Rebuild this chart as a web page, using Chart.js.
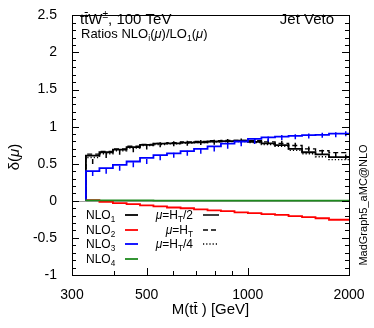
<!DOCTYPE html>
<html><head><meta charset="utf-8">
<script src="https://cdn.jsdelivr.net/npm/chart.js@4"></script>
<style>html,body{margin:0;padding:0;background:#fff}#wrap{width:374px;height:328px;position:relative}</style>
</head><body><div id="wrap"><canvas id="c"></canvas></div>
<script>
// ---- data ----
const binEdges = [330, 362, 397, 436, 478, 524, 575, 631, 692, 759, 832, 913, 1001, 1098, 1205, 1322, 1450, 1590, 1744, 1913, 2000];
const nlo1_HT2 = [0.53, 0.61, 0.655, 0.69, 0.725, 0.755, 0.77, 0.775, 0.785, 0.79, 0.80, 0.805, 0.81, 0.795, 0.775, 0.75, 0.70, 0.655, 0.625, 0.59];
const nlo1_HT  = [0.57, 0.63, 0.665, 0.70, 0.735, 0.76, 0.775, 0.785, 0.795, 0.80, 0.81, 0.815, 0.815, 0.81, 0.795, 0.775, 0.745, 0.70, 0.675, 0.65];
const nlo1_HT4 = [0.50, 0.585, 0.635, 0.675, 0.71, 0.745, 0.76, 0.77, 0.78, 0.785, 0.795, 0.80, 0.80, 0.785, 0.76, 0.735, 0.68, 0.635, 0.595, 0.555];
const nlo2 = [0.04, 0.01, -0.015, -0.03, -0.045, -0.06, -0.075, -0.09, -0.10, -0.115, -0.13, -0.14, -0.155, -0.165, -0.18, -0.19, -0.205, -0.22, -0.235, -0.255];
const nlo3 = [0.37, 0.40, 0.44, 0.485, 0.53, 0.58, 0.615, 0.64, 0.67, 0.70, 0.735, 0.77, 0.80, 0.835, 0.855, 0.865, 0.875, 0.885, 0.89, 0.905];
const nlo4 = [0.0, 0.005, 0.005, 0.005, 0.005, 0.005, 0.004, 0.004, 0.004, 0.004, 0.003, 0.003, 0.003, 0.003, 0.003, 0.002, 0.002, 0.002, 0.002, 0.002];
const xTickValues = [300, 400, 500, 600, 700, 800, 900, 1000, 2000];
const xTickLabels = ['300', '', '500', '', '', '', '', '1000', '2000'];
const yTickValues = [-1, -0.5, 0, 0.5, 1, 1.5, 2, 2.5];
const yTickLabels = ['-1', '-0.5', '0', '0.5', '1', '1.5', '2', '2.5'];
const yMinorStep = 0.1;

const FONT = "'Liberation Sans', Arial, Helvetica, sans-serif";

function steps(vals) {
  const pts = [{x: binEdges[0], y: 0}];
  vals.forEach((v, i) => pts.push({x: binEdges[i], y: v}));
  pts.push({x: binEdges[vals.length], y: vals[vals.length - 1]});
  return pts;
}
function centers(vals) {
  return vals.map((v, i) => ({x: Math.sqrt(binEdges[i] * Math.min(binEdges[i + 1], binEdges[i] * 1.097)), y: v}));
}

function ds(label, vals, color, dash, order, width) {
  return {label, data: steps(vals), borderColor: color, borderWidth: width || 1.8,
    borderDash: dash || [], stepped: 'after', pointRadius: 0, fill: false, order, tension: 0};
}
function errs(label, vals, color, order) {
  return {label, data: centers(vals), showLine: false, pointStyle: 'line', rotation: 90,
    pointRadius: 2.5, borderColor: color, backgroundColor: color, pointBorderWidth: 1.5, order};
}

// rich text helper: segs = [{t, sub, sup, it, bar}]
function drawRich(ctx, segs, x, y, size, align) {
  const parts = segs.map(s => {
    const sz = (s.sub || s.sup) ? size * 0.68 : size;
    const font = (s.it ? 'italic ' : '') + sz + 'px ' + FONT;
    ctx.font = font;
    return {t: s.t, font, bar: s.bar, w: ctx.measureText(s.t).width, dy: s.sub ? size * 0.25 : (s.sup ? -size * 0.4 : 0)};
  });
  const total = parts.reduce((a, p) => a + p.w, 0);
  let cx = align === 'right' ? x - total : (align === 'center' ? x - total / 2 : x);
  ctx.textAlign = 'left';
  ctx.textBaseline = 'alphabetic';
  parts.forEach(p => {
    ctx.font = p.font; ctx.fillText(p.t, cx, y + p.dy);
    if (p.bar) {
      ctx.save(); ctx.strokeStyle = ctx.fillStyle; ctx.lineWidth = 1; ctx.setLineDash([]);
      const by = Math.round(y - size * 0.82) + 0.5;
      ctx.beginPath(); ctx.moveTo(cx + 0.5, by); ctx.lineTo(cx + p.w - 0.5, by); ctx.stroke();
      ctx.restore();
    }
    cx += p.w;
  });
}

const decor = {
  id: 'decor',
  beforeDatasetsDraw(chart) {
    const {ctx, chartArea: a, scales: {y}} = chart;
    const y0 = y.getPixelForValue(0);
    ctx.save();
    ctx.strokeStyle = '#a0a0a0'; ctx.lineWidth = 1;
    ctx.beginPath(); ctx.moveTo(a.left, Math.round(y0) + 0.5); ctx.lineTo(a.right, Math.round(y0) + 0.5); ctx.stroke();
    ctx.restore();
  },
  afterDraw(chart) {
    const {ctx, chartArea: a, scales: {x, y}} = chart;
    ctx.save();
    ctx.strokeStyle = '#000'; ctx.lineWidth = 1;
    ctx.strokeRect(Math.round(a.left) + 0.5, Math.round(a.top) + 0.5, Math.round(a.right - a.left), Math.round(a.bottom - a.top));
    ctx.beginPath();
    y.ticks.forEach(t => {
      const p = Math.round(y.getPixelForValue(t.value)) + 0.5;
      const major = yTickValues.some(v => Math.abs(v - t.value) < 1e-6);
      const len = major ? 7 : 4;
      ctx.moveTo(a.left, p); ctx.lineTo(a.left + len, p);
      ctx.moveTo(a.right, p); ctx.lineTo(a.right - len, p);
    });
    x.ticks.forEach(t => {
      const p = Math.round(x.getPixelForValue(t.value)) + 0.5;
      const idx = xTickValues.indexOf(t.value);
      const len = xTickLabels[idx] ? 7 : 4;
      ctx.moveTo(p, a.bottom); ctx.lineTo(p, a.bottom - len);
    });
    ctx.stroke();

    ctx.fillStyle = '#000';
    drawRich(ctx, [{t: 't'}, {t: 't', bar: true}, {t: 'W'}, {t: '\u00b1', sup: true}, {t: ', 100 TeV'}], 80, 24, 15, 'left');
    ctx.font = '15px ' + FONT; ctx.textAlign = 'right'; ctx.fillText('Jet Veto', 334, 24);
    drawRich(ctx, [{t: 'Ratios NLO'}, {t: 'i', sub: true}, {t: '('}, {t: '\u03bc', it: true}, {t: ')/LO'}, {t: '1', sub: true}, {t: '('}, {t: '\u03bc', it: true}, {t: ')'}], 81, 38, 13, 'left');

    drawRich(ctx, [{t: 'M(t'}, {t: 't', bar: true}, {t: ' ) [GeV]'}], (a.left + a.right) / 2, 314, 15, 'center');
    ctx.save();
    ctx.translate(19, 157); ctx.rotate(-Math.PI / 2);
    drawRich(ctx, [{t: '\u03b4('}, {t: '\u03bc', it: true}, {t: ')'}], 0, 0, 15, 'center');
    ctx.restore();
    ctx.save();
    ctx.translate(367, 205); ctx.rotate(-Math.PI / 2);
    ctx.font = '11px ' + FONT; ctx.textAlign = 'center'; ctx.fillText('MadGraph5_aMC@NLO', 0, 0);
    ctx.restore();

    const rows = [219, 234, 248, 263];
    const left = [
      {n: '1', c: '#000000'}, {n: '2', c: '#ff0000'}, {n: '3', c: '#0000ff'}, {n: '4', c: '#1e8a1e'}
    ];
    left.forEach((e, i) => {
      drawRich(ctx, [{t: 'NLO'}, {t: e.n, sub: true}], 86, rows[i], 12, 'left');
      ctx.strokeStyle = e.c; ctx.lineWidth = 1.8; ctx.setLineDash([]);
      ctx.beginPath(); ctx.moveTo(125, rows[i] - 4); ctx.lineTo(138, rows[i] - 4); ctx.stroke();
    });
    const right = [{d: '2', dash: []}, {d: '', dash: [5, 3]}, {d: '4', dash: [1.2, 2]}];
    right.forEach((e, i) => {
      const segs = [{t: '\u03bc', it: true}, {t: '=H'}, {t: 'T', sub: true}];
      if (e.d) segs.push({t: '/' + e.d});
      drawRich(ctx, segs, 193, rows[i], 12, 'right');
      ctx.strokeStyle = '#000'; ctx.lineWidth = 1.5; ctx.setLineDash(e.dash);
      ctx.beginPath(); ctx.moveTo(203, rows[i] - 4); ctx.lineTo(219, rows[i] - 4); ctx.stroke();
    });
    ctx.setLineDash([]);
    ctx.restore();
  }
};

new Chart(document.getElementById('c'), {
  type: 'line',
  data: {
    datasets: [
      ds('NLO1 muHT/2', nlo1_HT2, '#000000', [], 6),
      errs('NLO1 err', nlo1_HT2, '#000000', 6),
      ds('NLO1 muHT', nlo1_HT, '#000000', [5, 3], 5, 1.4),
      ds('NLO1 muHT/4', nlo1_HT4, '#000000', [1.2, 2], 4, 1.4),
      ds('NLO2', nlo2, '#ff0000', [], 3),
      ds('NLO3', nlo3, '#0000ff', [], 2),
      errs('NLO3 err', nlo3, '#0000ff', 2),
      ds('NLO4', nlo4, '#1e8a1e', [], 1)
    ]
  },
  options: {
    responsive: true, maintainAspectRatio: false, animation: false,
    layout: {padding: {top: 6, right: 25, left: 0, bottom: 0}},
    plugins: {legend: {display: false}, tooltip: {enabled: false}},
    scales: {
      x: {
        type: 'logarithmic', min: 300, max: 2000,
        afterBuildTicks: s => { s.ticks = xTickValues.map(v => ({value: v})); },
        afterFit: s => { s.height = 53; },
        ticks: {autoSkip: false, maxRotation: 0, color: '#000', padding: 4,
          font: {family: FONT, size: 14},
          callback: (v) => { const i = xTickValues.indexOf(v); return i >= 0 ? xTickLabels[i] : ''; }},
        grid: {display: false}, border: {display: false}
      },
      y: {
        min: -1, max: 2.5,
        afterBuildTicks: s => {
          const t = [];
          for (let i = 0; i <= Math.round((2.5 + 1) / yMinorStep); i++) t.push({value: Math.round((-1 + i * yMinorStep) * 10) / 10});
          s.ticks = t;
        },
        afterFit: s => { s.width = 72; },
        ticks: {autoSkip: false, color: '#000', padding: 7,
          font: {family: FONT, size: 14},
          callback: (v) => { const i = yTickValues.findIndex(u => Math.abs(u - v) < 1e-6); return i >= 0 ? yTickLabels[i] : ''; }},
        grid: {display: false}, border: {display: false}
      }
    }
  },
  plugins: [decor]
});
</script>
</body></html>
